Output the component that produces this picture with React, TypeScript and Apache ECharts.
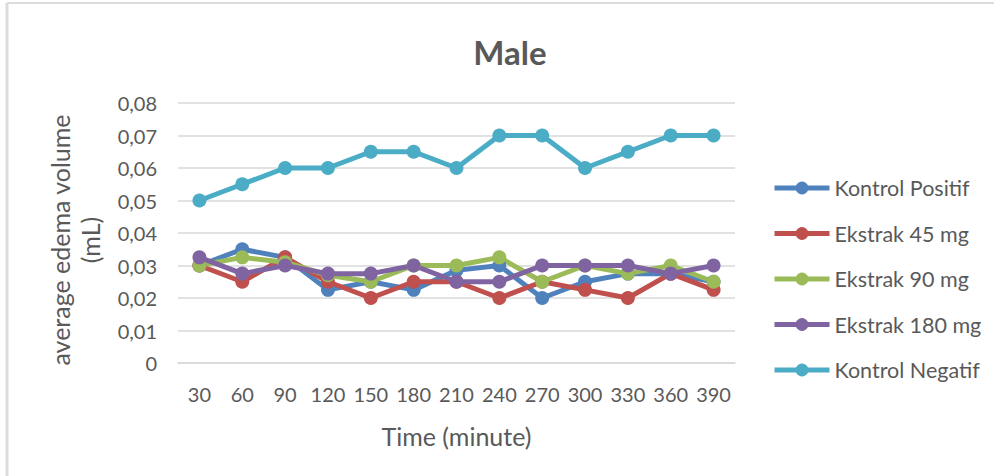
import React, { useEffect, useRef } from "react";
import * as echarts from "echarts";

// Time points (minutes) and mean edema volume (mL) per treatment group
const timeLabels = ["30", "60", "90", "120", "150", "180", "210", "240", "270", "300", "330", "360", "390"];
const kontrolPositif = [0.03, 0.035, 0.0325, 0.0225, 0.025, 0.0225, 0.0285, 0.03, 0.02, 0.025, 0.0275, 0.0275, 0.025];
const ekstrak45 = [0.03, 0.025, 0.0325, 0.025, 0.02, 0.025, 0.025, 0.02, 0.025, 0.0225, 0.02, 0.0275, 0.0225];
const ekstrak90 = [0.03, 0.0325, 0.031, 0.027, 0.025, 0.03, 0.03, 0.0325, 0.025, 0.03, 0.0275, 0.03, 0.025];
const ekstrak180 = [0.0325, 0.0275, 0.03, 0.0275, 0.0275, 0.03, 0.025, 0.025, 0.03, 0.03, 0.03, 0.0275, 0.03];
const kontrolNegatif = [0.05, 0.055, 0.06, 0.06, 0.065, 0.065, 0.06, 0.07, 0.07, 0.06, 0.065, 0.07, 0.07];

const seriesNames = ["Kontrol Positif", "Ekstrak 45 mg", "Ekstrak 90 mg", "Ekstrak 180 mg", "Kontrol Negatif"];
const seriesValues = [kontrolPositif, ekstrak45, ekstrak90, ekstrak180, kontrolNegatif];
const seriesColors = ["#4F81BD", "#C0504D", "#9BBB59", "#8064A2", "#4BACC6"];

const FONT = "Lato, 'Open Sans', sans-serif";
const TEXT = "#595959";

export default function App() {
  const ref = useRef<HTMLDivElement>(null);

  useEffect(() => {
    if (!ref.current) return;
    const chart = echarts.init(ref.current, null, { renderer: "svg" });
    chart.setOption({
      animation: false,
      backgroundColor: "#ffffff",
      textStyle: { fontFamily: FONT },
      title: {
        text: "Male",
        left: 505,
        top: 30,
        textAlign: "center",
        textStyle: { fontFamily: FONT, fontSize: 33, fontWeight: "bold", color: TEXT },
      },
      graphic: [
        { type: "line", shape: { x1: 7, y1: 3, x2: 7, y2: 476 }, style: { stroke: "#dcdcdc", lineWidth: 3 } },
        { type: "line", shape: { x1: 7, y1: 3, x2: 994, y2: 3 }, style: { stroke: "#dcdcdc", lineWidth: 2 } },
      ],
      legend: {
        orient: "vertical",
        left: 772,
        top: 177,
        padding: 0,
        itemWidth: 55,
        itemHeight: 16,
        itemGap: 23.5,
        data: seriesNames,
        lineStyle: { width: 5 },
        textStyle: { fontFamily: FONT, fontSize: 21.5, color: TEXT },
      },
      grid: { left: 178, right: 259, top: 103, bottom: 113, containLabel: false },
      xAxis: {
        type: "category",
        data: timeLabels,
        boundaryGap: true,
        name: "Time (minute)",
        nameLocation: "middle",
        nameGap: 60,
        nameTextStyle: { fontFamily: FONT, fontSize: 25, color: TEXT },
        axisLine: { show: true, lineStyle: { color: "#d9d9d9", width: 1.5 } },
        axisTick: { show: false },
        axisLabel: { fontFamily: FONT, fontSize: 20, color: TEXT, margin: 21, interval: 0 },
      },
      yAxis: {
        type: "value",
        min: 0,
        max: 0.08,
        interval: 0.01,
        name: "average edema volume\n(mL)",
        nameLocation: "middle",
        nameGap: 73,
        nameRotate: 90,
        nameTextStyle: { fontFamily: FONT, fontSize: 25, color: TEXT, lineHeight: 30, padding: [0, 14, 0, 0] },
        axisLine: { show: false },
        axisTick: { show: false },
        axisLabel: {
          fontFamily: FONT,
          fontSize: 20,
          color: TEXT,
          margin: 21,
          formatter: (v: number) => (v === 0 ? "0" : v.toFixed(2).replace(".", ",")),
        },
        splitLine: { lineStyle: { color: "#d9d9d9", width: 1.5 } },
      },
      series: seriesNames.map((name, i) => ({
        name,
        type: "line",
        data: seriesValues[i],
        symbol: "circle",
        symbolSize: 14,
        itemStyle: { color: seriesColors[i] },
        lineStyle: { color: seriesColors[i], width: 5 },
      })),
    });
    return () => chart.dispose();
  }, []);

  return <div ref={ref} style={{ position: "fixed", left: 0, top: 0, width: 994, height: 476 }} />;
}
